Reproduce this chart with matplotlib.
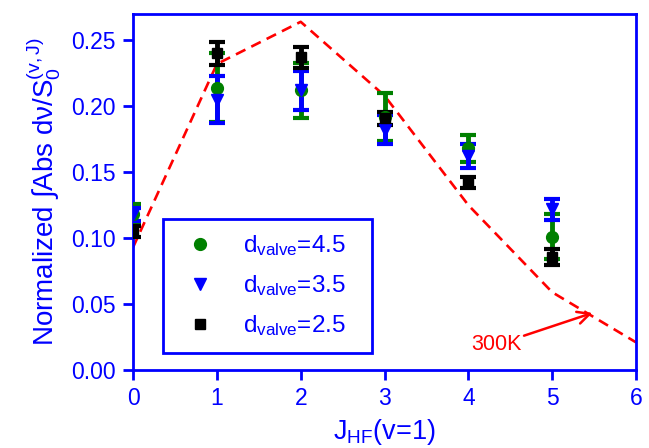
import numpy as np
import matplotlib
matplotlib.use('Agg')
import matplotlib.pyplot as plt
from matplotlib.lines import Line2D

plt.rcParams['font.family'] = ['Liberation Sans', 'DejaVu Sans']
plt.rcParams['mathtext.fontset'] = 'custom'
plt.rcParams['mathtext.rm'] = 'Liberation Sans'
plt.rcParams['mathtext.it'] = 'Liberation Sans:italic'

# rotational levels J of HF(v=1)
J = np.array([0, 1, 2, 3, 4, 5])

# d_valve = 4.5
y45 = [0.118, 0.214, 0.212, 0.192, 0.168, 0.101]
e45 = [0.008, 0.026, 0.021, 0.018, 0.010, 0.017]
# d_valve = 3.5
y35 = [0.118, 0.205, 0.212, 0.182, 0.162, 0.122]
e35 = [0.005, 0.018, 0.015, 0.011, 0.009, 0.008]
# d_valve = 2.5
y25 = [0.105, 0.240, 0.237, 0.191, 0.142, 0.086]
e25 = [0.004, 0.009, 0.008, 0.005, 0.004, 0.006]

# 300 K thermal distribution
J300 = [0, 1, 2, 3, 4, 5, 6]
y300 = [0.093, 0.232, 0.264, 0.208, 0.125, 0.059, 0.021]

blue = '#0000ff'
green = '#008000'

fig = plt.figure(figsize=(6.49, 4.48), dpi=100)
ax = fig.add_axes([0.205, 0.174, 0.775, 0.795])

ax.plot(J300, y300, color='red', ls=(0, (4, 2.5)), lw=1.9, zorder=1)

series = [(y45, e45, green, 'o', 8.5), (y35, e35, blue, 'v', 9),
          (y25, e25, 'black', 's', 7.5)]
for y, e, c, m, ms in series:
    ax.errorbar(J, y, yerr=e, fmt=m, color=c, ms=ms, elinewidth=3.5,
                capsize=5.5, capthick=3, zorder=3)

ax.annotate('300K', xy=(5.48, 0.0433), xytext=(4.03, 0.019),
            color='red', fontsize=15.5, va='center', ha='left',
            arrowprops=dict(arrowstyle='->', color='red', lw=1.8,
                            mutation_scale=22, shrinkA=0, shrinkB=0))

ax.set_xlim(0, 6)
ax.set_ylim(0, 0.27)
ax.set_xticks(range(0, 7))
ax.set_yticks([0, 0.05, 0.10, 0.15, 0.20, 0.25])
ax.set_yticklabels(['0.00', '0.05', '0.10', '0.15', '0.20', '0.25'])

for sp in ax.spines.values():
    sp.set_color(blue)
    sp.set_linewidth(2)
ax.tick_params(direction='out', length=7, width=2, color=blue,
               labelcolor=blue, labelsize=16.5, pad=5.5)

ax.set_xlabel(r'J$\mathregular{_{HF}}$(v=1)', fontsize=19.5, color=blue,
              labelpad=5)
ax.set_ylabel(r'Normalized ∫Abs dν/S$\mathregular{_0^{(v,J)}}$',
              fontsize=20, color=blue, labelpad=6)

handles = [Line2D([], [], ls='none', marker='o', color=green, ms=8.5),
           Line2D([], [], ls='none', marker='v', color=blue, ms=9),
           Line2D([], [], ls='none', marker='s', color='black', ms=7.5)]
labels = [r'd$\mathregular{_{valve}}$=4.5', r'd$\mathregular{_{valve}}$=3.5',
          r'd$\mathregular{_{valve}}$=2.5']
leg = ax.legend(handles, labels, loc='lower left', mode='expand',
                bbox_to_anchor=(0.06, 0.048, 0.415, 0.3),
                borderaxespad=0, fontsize=17.5, labelcolor=blue,
                fancybox=False, framealpha=1, handlelength=1.8,
                handletextpad=0.9, labelspacing=0.62, borderpad=0.6)
leg.get_frame().set_edgecolor(blue)
leg.get_frame().set_linewidth(2)

fig.savefig('out.png', dpi=100)
